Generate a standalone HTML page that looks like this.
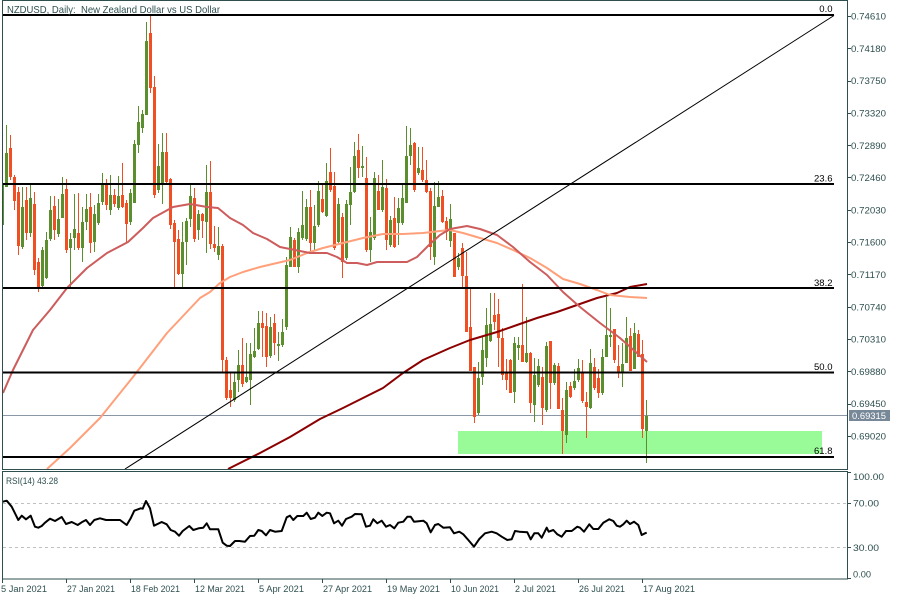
<!DOCTYPE html>
<html>
<head>
<meta charset="utf-8">
<style>
html,body{margin:0;padding:0;background:#fff;}
svg{display:block;}
text{font-family:"Liberation Sans",Arial,sans-serif;fill:#2f4f4f;}
</style>
</head>
<body>
<svg width="900" height="600" viewBox="0 0 900 600" xmlns="http://www.w3.org/2000/svg">
<defs>
<clipPath id="mainclip"><rect x="3" y="1" width="844" height="468"/></clipPath>
<clipPath id="rsiclip"><rect x="3" y="472" width="844" height="107"/></clipPath>
</defs>
<rect x="0" y="0" width="900" height="600" fill="#fff"/>

<g clip-path="url(#mainclip)">
<!-- green zone -->
<rect x="458" y="431" width="364" height="23" fill="#98fb98"/>
<!-- current price line -->
<line x1="3" y1="415.5" x2="847" y2="415.5" stroke="#8a97a6" stroke-width="1"/>

<!-- green candles -->
<path fill="none" stroke="#5b8e2d" stroke-width="1" shape-rendering="crispEdges" d="M2.5 178V237M6.5 125V187M22.5 187V249M30.5 185V237M42.5 247V287M46.5 232V279M50.5 196V241M58.5 199V237M62.5 177V218M70.5 233V287M74.5 194V250M82.5 207V262M86.5 194V230M94.5 205V252M98.5 194V225M102.5 173V205M110.5 175V215M118.5 176V210M130.5 189V225M134.5 140V203M138.5 106V153M142.5 110V133M146.5 22V115M158.5 144V193M162.5 133V204M182.5 222V289M186.5 218V265M190.5 183V227M198.5 210V240M206.5 165V253M218.5 227V260M234.5 373V402M238.5 350V392M246.5 343V383M250.5 343V405M254.5 328V358M258.5 311V350M270.5 317V358M278.5 332V361M282.5 319V347M286.5 257V330M290.5 227V267M298.5 228V273M302.5 191V240M306.5 199V241M314.5 205V250M318.5 181V227M326.5 163V217M338.5 198V243M346.5 200V260M350.5 167V225M354.5 142V193M362.5 146V177M370.5 217V262M374.5 172V240M382.5 160V212M390.5 216V247M398.5 198V245M402.5 185V225M406.5 126V203M410.5 128V165M418.5 147V175M434.5 182V265M438.5 181V207M450.5 204V247M458.5 253V270M478.5 362V415M482.5 337V385M486.5 308V367M490.5 293V342M514.5 337V403M518.5 337V360M526.5 317V363M534.5 358V422M538.5 359V387M546.5 342V412M554.5 363V385M566.5 382V443M574.5 369V390M578.5 359V382M590.5 349V409M602.5 349V395M606.5 297V357M610.5 308V347M622.5 343V387M626.5 317V363M634.5 323V369M646.5 400V463"/>
<path fill="#5b8e2d" shape-rendering="crispEdges" d="M1 185h3v40h-3zM5 153h3v34h-3zM21 207h3v40h-3zM29 198h3v35h-3zM41 250h3v36h-3zM45 240h3v38h-3zM49 210h3v29h-3zM57 219h3v15h-3zM61 194h3v24h-3zM69 239h3v9h-3zM73 229h3v9h-3zM81 222h3v26h-3zM85 209h3v13h-3zM93 214h3v28h-3zM97 203h3v20h-3zM101 184h3v18h-3zM109 195h3v15h-3zM117 196h3v12h-3zM129 193h3v29h-3zM133 144h3v59h-3zM137 122h3v23h-3zM141 114h3v14h-3zM145 41h3v74h-3zM157 166h3v24h-3zM161 152h3v33h-3zM181 242h3v32h-3zM185 221h3v21h-3zM189 196h3v23h-3zM197 214h3v16h-3zM205 192h3v30h-3zM217 246h3v9h-3zM233 382h3v18h-3zM237 365h3v15h-3zM245 377h3v5h-3zM249 354h3v26h-3zM253 351h3v6h-3zM257 323h3v26h-3zM269 327h3v29h-3zM277 344h3v2h-3zM281 332h3v13h-3zM285 265h3v62h-3zM289 237h3v30h-3zM297 232h3v35h-3zM301 225h3v13h-3zM305 207h3v32h-3zM313 226h3v17h-3zM317 191h3v34h-3zM325 181h3v35h-3zM337 204h3v38h-3zM345 204h3v54h-3zM349 192h3v13h-3zM353 156h3v36h-3zM361 166h3v2h-3zM369 232h3v18h-3zM373 178h3v60h-3zM381 187h3v23h-3zM389 220h3v25h-3zM397 208h3v15h-3zM401 198h3v25h-3zM405 156h3v47h-3zM409 145h3v11h-3zM417 168h3v5h-3zM433 206h3v51h-3zM437 197h3v10h-3zM449 219h3v22h-3zM457 258h3v9h-3zM477 378h3v35h-3zM481 350h3v27h-3zM485 325h3v33h-3zM489 324h3v17h-3zM513 343h3v49h-3zM517 345h3v3h-3zM525 353h3v9h-3zM533 375h3v30h-3zM537 366h3v19h-3zM545 346h3v64h-3zM553 365h3v18h-3zM565 390h3v45h-3zM573 381h3v7h-3zM577 368h3v12h-3zM589 363h3v45h-3zM601 357h3v36h-3zM605 335h3v22h-3zM609 335h3v2h-3zM621 364h3v8h-3zM625 338h3v25h-3zM633 333h3v36h-3zM645 416h3v15h-3z"/>

<!-- red candles -->
<path fill="none" stroke="#f04e23" stroke-width="1" shape-rendering="crispEdges" d="M10.5 135V180M14.5 175V210M18.5 187V255M26.5 187V240M34.5 192V275M38.5 258V292M54.5 196V240M66.5 179V253M78.5 193V250M90.5 193V253M106.5 179V210M114.5 189V207M122.5 163V208M126.5 200V242M150.5 15V93M154.5 76V198M166.5 133V185M170.5 178V229M174.5 220V289M178.5 230V275M194.5 188V242M202.5 213V238M210.5 161V249M214.5 226V252M222.5 244V373M226.5 357V400M230.5 373V407M242.5 338V387M262.5 311V357M266.5 313V367M274.5 314V355M294.5 238V267M310.5 190V252M322.5 185V213M330.5 148V192M334.5 172V250M342.5 213V278M358.5 134V178M366.5 157V252M378.5 175V210M386.5 179V250M394.5 197V248M414.5 142V192M422.5 147V182M426.5 160V193M430.5 188V260M442.5 190V223M446.5 217V240M454.5 233V277M462.5 243V287M466.5 252V332M470.5 288V371M474.5 367V423M494.5 293V330M498.5 299V367M502.5 328V380M506.5 359V390M510.5 359V393M522.5 284V362M530.5 352V413M542.5 367V425M550.5 341V409M558.5 363V409M562.5 398V454M570.5 382V398M582.5 360V403M586.5 392V438M594.5 358V390M598.5 369V398M614.5 329V363M618.5 345V378M630.5 328V371M638.5 330V357M642.5 340V438"/>
<path fill="#f04e23" shape-rendering="crispEdges" d="M9 148h3v29h-3zM13 177h3v24h-3zM17 192h3v54h-3zM25 200h3v33h-3zM33 204h3v66h-3zM37 262h3v25h-3zM53 206h3v24h-3zM65 189h3v61h-3zM77 233h3v15h-3zM89 207h3v36h-3zM105 185h3v20h-3zM113 195h3v9h-3zM121 195h3v12h-3zM125 203h3v21h-3zM149 33h3v55h-3zM153 87h3v108h-3zM165 152h3v30h-3zM169 179h3v46h-3zM173 223h3v19h-3zM177 239h3v35h-3zM193 198h3v41h-3zM201 214h3v7h-3zM209 192h3v52h-3zM213 244h3v4h-3zM221 246h3v114h-3zM225 360h3v38h-3zM229 390h3v8h-3zM241 365h3v19h-3zM261 323h3v5h-3zM265 326h3v31h-3zM273 323h3v20h-3zM293 240h3v27h-3zM309 207h3v36h-3zM321 199h3v13h-3zM329 172h3v18h-3zM333 186h3v62h-3zM341 217h3v45h-3zM357 150h3v18h-3zM365 178h3v72h-3zM377 191h3v19h-3zM385 188h3v52h-3zM393 218h3v29h-3zM413 143h3v47h-3zM421 170h3v10h-3zM425 180h3v12h-3zM429 191h3v56h-3zM441 196h3v26h-3zM445 221h3v11h-3zM453 233h3v44h-3zM461 248h3v28h-3zM465 276h3v56h-3zM469 327h3v44h-3zM473 367h3v50h-3zM493 315h3v7h-3zM497 314h3v24h-3zM501 338h3v37h-3zM505 373h3v7h-3zM509 360h3v33h-3zM521 345h3v17h-3zM529 353h3v50h-3zM541 377h3v31h-3zM549 341h3v42h-3zM557 366h3v43h-3zM561 410h3v21h-3zM569 386h3v11h-3zM581 373h3v28h-3zM585 402h3v5h-3zM593 367h3v21h-3zM597 378h3v15h-3zM613 329h3v31h-3zM617 366h3v6h-3zM629 336h3v35h-3zM637 334h3v23h-3zM641 354h3v75h-3z"/>

<!-- moving averages -->
<polyline fill="none" stroke="#8b0000" stroke-width="2" stroke-linejoin="round" points="228,469 260,453 290,437 320,419 343,408 363,398 383,388 403,373 423,360 450,348 470,340 497,332 517,325 537,318 557,312 577,305 597,298 617,293 630,287 647,284"/>
<polyline fill="none" stroke="#ffa07a" stroke-width="2" stroke-linejoin="round" points="47,469 70,448 100,418 133,377 167,333 200,298 210,292 220,283 230,277 243,272 260,267 277,263 290,260 307,253 323,248 343,243 363,238 383,234 403,234 423,233 440,231 450,230 463,233 480,238 497,243 513,250 530,258 547,268 563,279 580,284 597,290 610,295 630,297 647,298"/>
<polyline fill="none" stroke="#cd5c5c" stroke-width="2" stroke-linejoin="round" points="3,393 13,370 33,330 50,310 67,288 87,268 107,253 128,242 143,228 153,218 173,207 190,204 207,207 218,208 230,218 243,225 253,233 267,239 280,247 290,249 310,253 327,253 337,257 347,263 357,263 367,265 377,262 407,262 417,257 430,244 440,235 450,229 467,226 480,229 497,235 513,247 530,262 547,275 563,292 580,307 600,323 620,338 647,362"/>

<!-- fibonacci levels -->
<g stroke="#000" stroke-width="2" shape-rendering="crispEdges">
<line x1="3" y1="15" x2="834" y2="15"/>
<line x1="3" y1="184" x2="834" y2="184"/>
<line x1="3" y1="288" x2="834" y2="288"/>
<line x1="3" y1="372.5" x2="834" y2="372.5"/>
<line x1="3" y1="457" x2="834" y2="457"/>
</g>
<line x1="125" y1="469" x2="834" y2="15.5" stroke="#000" stroke-width="1"/>
</g>

<!-- fib labels -->
<g font-size="9.5" text-anchor="end">
<text x="832.5" y="12" style="fill:#000">0.0</text>
<text x="832.5" y="181.5" style="fill:#000">23.6</text>
<text x="832.5" y="286" style="fill:#000">38.2</text>
<text x="832.5" y="370" style="fill:#000">50.0</text>
<text x="832.5" y="454" style="fill:#000">61.8</text>
</g>

<!-- title -->
<text x="7" y="13" font-size="10.5" textLength="213" lengthAdjust="spacingAndGlyphs" style="white-space:pre">NZDUSD, Daily:  New Zealand Dollar vs US Dollar</text>

<!-- RSI panel -->
<g clip-path="url(#rsiclip)">
<line x1="3" y1="503.5" x2="847" y2="503.5" stroke="#c0c0c0" stroke-width="1" stroke-dasharray="3,3"/>
<line x1="3" y1="547.5" x2="847" y2="547.5" stroke="#c0c0c0" stroke-width="1" stroke-dasharray="3,3"/>
<polyline fill="none" stroke="#000" stroke-width="2" stroke-linejoin="round" points="2.7,501.7 6.7,500.7 11.7,506.7 15,513.3 18.3,520 21.7,515.7 26,519.3 30.7,515.7 35,526.7 38.3,527.7 41.7,526 45,522.7 50,518.7 55,521 61.7,517 66,524 71.7,522 77.7,525 81.7,522.3 86,520 90,525 94.3,520 100,518.3 106,520 120,520 126.7,525 130.7,518.3 134.3,510.7 140.7,508.3 142.7,508.7 146,501 150,508.3 154,525.7 161.7,522 166.7,524.3 170.7,530 175,531.7 179,535.7 182.7,531 189.3,526 193.3,530 198.7,528.3 203.3,527.7 206.7,523.3 210,529.3 218.3,529.3 222.7,542.7 226.7,545.7 230,546 235,541 239.3,541 245,541.7 250,536 254.3,535.7 258.3,530 261.7,531 266,535.3 270,530 275,531.7 281.7,531 286.7,517.3 290,515.7 293.3,520 297.3,516 303.3,516 306.7,512.7 310.7,519 315,517.7 318.3,512.7 322.3,516 326.7,512.7 330,513.3 334,523.3 338.3,520.7 342,525.7 346,519 351.7,516.7 355,514 361.7,514.3 366,526.7 370,525.7 373.3,519.3 377.3,523.3 381.7,520.7 386,526.7 390,525 394.3,528.3 398.3,522.7 403.3,521.7 407.3,516.7 410.7,516.7 414,521.7 423.3,520.7 426.7,523.3 430.7,532.3 435,525 438.3,524 443.3,527.7 450,527.3 454,533.3 459.3,531.7 463.3,534.3 468.3,540 474,546.7 479.3,539 485,533.3 491.7,531.7 496.7,533.3 501.7,536.7 507.3,540 511.7,539.3 515,531 519.3,531.7 527.3,532.3 530.7,539.3 534.3,533.3 538.3,533.3 541.7,537.7 546.7,527.7 548.7,531.7 553.3,530 557.3,534.3 561.7,536.7 566,531 571.7,531 577.3,526.7 580,527.7 584,531.7 589.3,524.3 593.3,529 598.3,529 603.3,522.7 609.3,519.3 613.3,521 616.7,525.7 620,526.7 623.3,524.3 626.7,520.7 630,524 634,521.7 638.3,525 641.7,535 645,533.3 646.7,532.7"/>
</g>
<text x="6" y="484" font-size="9.5" textLength="52" lengthAdjust="spacingAndGlyphs">RSI(14) 43.28</text>

<!-- frames -->
<g fill="none" stroke="#2f4f4f" stroke-width="1" shape-rendering="crispEdges">
<rect x="2.5" y="0.5" width="845" height="469"/>
<rect x="2.5" y="471.5" width="845" height="107.5"/>
</g>

<!-- price axis ticks -->
<g stroke="#2f4f4f" stroke-width="1" shape-rendering="crispEdges">
<line x1="847" y1="16.5" x2="851" y2="16.5"/>
<line x1="847" y1="48.5" x2="851" y2="48.5"/>
<line x1="847" y1="81.5" x2="851" y2="81.5"/>
<line x1="847" y1="113.5" x2="851" y2="113.5"/>
<line x1="847" y1="145.5" x2="851" y2="145.5"/>
<line x1="847" y1="177.5" x2="851" y2="177.5"/>
<line x1="847" y1="210.5" x2="851" y2="210.5"/>
<line x1="847" y1="242.5" x2="851" y2="242.5"/>
<line x1="847" y1="274.5" x2="851" y2="274.5"/>
<line x1="847" y1="307.5" x2="851" y2="307.5"/>
<line x1="847" y1="339.5" x2="851" y2="339.5"/>
<line x1="847" y1="371.5" x2="851" y2="371.5"/>
<line x1="847" y1="404.5" x2="851" y2="404.5"/>
<line x1="847" y1="436.5" x2="851" y2="436.5"/>
<line x1="847" y1="472.5" x2="851" y2="472.5"/>
<line x1="847" y1="503.5" x2="851" y2="503.5"/>
<line x1="847" y1="547.5" x2="851" y2="547.5"/>
<line x1="847" y1="578.5" x2="851" y2="578.5"/>
<line x1="2.5" y1="579" x2="2.5" y2="583"/>
<line x1="66.5" y1="579" x2="66.5" y2="583"/>
<line x1="130.5" y1="579" x2="130.5" y2="583"/>
<line x1="194.5" y1="579" x2="194.5" y2="583"/>
<line x1="258.5" y1="579" x2="258.5" y2="583"/>
<line x1="322.5" y1="579" x2="322.5" y2="583"/>
<line x1="386.5" y1="579" x2="386.5" y2="583"/>
<line x1="450.5" y1="579" x2="450.5" y2="583"/>
<line x1="514.5" y1="579" x2="514.5" y2="583"/>
<line x1="578.5" y1="579" x2="578.5" y2="583"/>
<line x1="642.5" y1="579" x2="642.5" y2="583"/>
</g>

<!-- price labels -->
<g font-size="9.5">
<text x="851" y="19.6" textLength="35" lengthAdjust="spacingAndGlyphs">0.74610</text>
<text x="851" y="51.9" textLength="35" lengthAdjust="spacingAndGlyphs">0.74180</text>
<text x="851" y="84.2" textLength="35" lengthAdjust="spacingAndGlyphs">0.73750</text>
<text x="851" y="116.5" textLength="35" lengthAdjust="spacingAndGlyphs">0.73320</text>
<text x="851" y="148.8" textLength="35" lengthAdjust="spacingAndGlyphs">0.72890</text>
<text x="851" y="181.1" textLength="35" lengthAdjust="spacingAndGlyphs">0.72460</text>
<text x="851" y="213.4" textLength="35" lengthAdjust="spacingAndGlyphs">0.72030</text>
<text x="851" y="245.7" textLength="35" lengthAdjust="spacingAndGlyphs">0.71600</text>
<text x="851" y="278" textLength="35" lengthAdjust="spacingAndGlyphs">0.71170</text>
<text x="851" y="310.3" textLength="35" lengthAdjust="spacingAndGlyphs">0.70740</text>
<text x="851" y="342.6" textLength="35" lengthAdjust="spacingAndGlyphs">0.70310</text>
<text x="851" y="374.9" textLength="35" lengthAdjust="spacingAndGlyphs">0.69880</text>
<text x="851" y="407.2" textLength="35" lengthAdjust="spacingAndGlyphs">0.69450</text>
<text x="851" y="439.5" textLength="35" lengthAdjust="spacingAndGlyphs">0.69020</text>
</g>
<rect x="849" y="410" width="41" height="11" fill="#778899"/>
<text x="852" y="418.8" font-size="9.5" textLength="34" lengthAdjust="spacingAndGlyphs" style="fill:#fff">0.69315</text>

<!-- RSI labels -->
<g font-size="9.5">
<text x="853" y="480" textLength="31" lengthAdjust="spacingAndGlyphs">100.00</text>
<text x="853" y="506.5" textLength="26" lengthAdjust="spacingAndGlyphs">70.00</text>
<text x="853" y="551" textLength="26" lengthAdjust="spacingAndGlyphs">30.00</text>
<text x="853" y="577.3" textLength="18" lengthAdjust="spacingAndGlyphs">0.00</text>
</g>

<!-- date labels -->
<g font-size="9.5">
<text x="1" y="592" textLength="46" lengthAdjust="spacingAndGlyphs">5 Jan 2021</text>
<text x="67" y="592" textLength="48" lengthAdjust="spacingAndGlyphs">27 Jan 2021</text>
<text x="131" y="592" textLength="49" lengthAdjust="spacingAndGlyphs">18 Feb 2021</text>
<text x="195" y="592" textLength="50" lengthAdjust="spacingAndGlyphs">12 Mar 2021</text>
<text x="259" y="592" textLength="45" lengthAdjust="spacingAndGlyphs">5 Apr 2021</text>
<text x="323" y="592" textLength="49" lengthAdjust="spacingAndGlyphs">27 Apr 2021</text>
<text x="387" y="592" textLength="53" lengthAdjust="spacingAndGlyphs">19 May 2021</text>
<text x="451" y="592" textLength="48" lengthAdjust="spacingAndGlyphs">10 Jun 2021</text>
<text x="515" y="592" textLength="41" lengthAdjust="spacingAndGlyphs">2 Jul 2021</text>
<text x="579" y="592" textLength="46" lengthAdjust="spacingAndGlyphs">26 Jul 2021</text>
<text x="643" y="592" textLength="52" lengthAdjust="spacingAndGlyphs">17 Aug 2021</text>
</g>
</svg>
</body>
</html>
